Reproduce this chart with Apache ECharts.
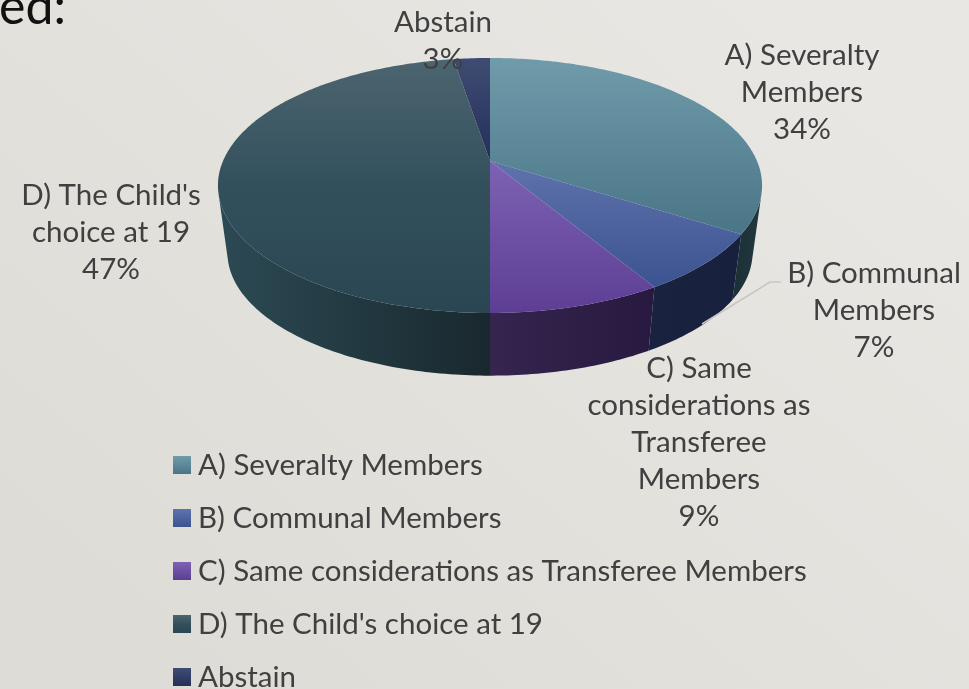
<!DOCTYPE html>
<html>
<head>
<meta charset="utf-8">
<style>
  html, body { margin: 0; padding: 0; }
  #main { width: 969px; height: 689px; }
</style>
<script src="https://cdn.jsdelivr.net/npm/echarts@6/dist/echarts.min.js"></script>
</head>
<body>
<div id="main"></div>
<script>
// chart data (slice sizes are finer than the rounded labels)
var categories = ['A) Severalty Members', 'B) Communal Members', 'C) Same considerations as Transferee Members', "D) The Child's choice at 19", 'Abstain'];
var shares = [34, 7.4, 8.6, 47.4, 2.6];
var labelLines = [
  ['A) Severalty', 'Members'],
  ['B) Communal', 'Members'],
  ['C) Same', 'considerations as', 'Transferee', 'Members'],
  ["D) The Child's", 'choice at 19'],
  ['Abstain']
];

// look of the marks
var topColors = [['#6f9bab', '#4a7586'], ['#5f73ad', '#3b5390'], ['#7d62b3', '#5d3e94'], ['#4c6570', '#32505c', '#2b4653'], ['#3f4c72', '#252f5b']];
var wallColors = [['#1b2f35', '#23393f'], ['#19233f', '#17203c'], ['#35254f', '#27193f'], ['#2c4a54', '#19282e'], ['#1c2340', '#1c2340']];
var labelCenters = [[802, 55], [874, 273], [699, 368], [111, 195], [443, 22]];
var labelLineHeight = 37;
var FONT = 'Lato, "Noto Sans", sans-serif';
var TEXT = '#404040';

// projection of the tilted disc: apex of the slices, radii and perspective
var PIE = { x: 490, y: 161, a: 267, b: 122.8, k: 0.192, shrink: 0.965, drop: 68 };
// the wall only shows between these two points of the rim (percent round the disc)
var WALL_FROM = 29, WALL_TO = 71;

function topPoint(pct) {
  var t = pct / 100 * Math.PI * 2;
  var u = Math.sin(t), v = Math.cos(t);
  var w = 1 + PIE.k * v;
  return [PIE.x + PIE.a * u / w, PIE.y - PIE.b * v / w];
}

function lowPoint(pct) {
  var p = topPoint(pct);
  return [PIE.x + (p[0] - PIE.x) * PIE.shrink, PIE.y + (p[1] - PIE.y) * PIE.shrink + PIE.drop];
}

function stops(c) {
  return c.map(function (color, n) {
    return { offset: n / (c.length - 1), color: color };
  });
}

function vGrad(c) {
  return new echarts.graphic.LinearGradient(0, 0, 0, 1, stops(c));
}

function hGrad(c) {
  return new echarts.graphic.LinearGradient(0, 0, 1, 0, stops(c));
}

function renderSlice(params, api) {
  var i = params.seriesIndex;
  var from = api.value(0), to = api.value(1);
  var children = [];
  var p;

  // side wall
  var a = Math.max(from, WALL_FROM), b = Math.min(to, WALL_TO);
  if (b > a) {
    var upper = [], lower = [];
    for (p = a; p < b; p += 0.25) { upper.push(topPoint(p)); lower.push(lowPoint(p)); }
    upper.push(topPoint(b));
    lower.push(lowPoint(b));
    children.push({
      type: 'polygon',
      shape: { points: upper.concat(lower.reverse()) },
      style: { fill: hGrad(wallColors[i]) }
    });
  }

  // top face
  var pts = [[PIE.x, PIE.y]];
  for (p = from; p < to; p += 0.25) { pts.push(topPoint(p)); }
  pts.push(topPoint(to));
  children.push({ type: 'polygon', shape: { points: pts }, style: { fill: vGrad(topColors[i]) } });

  // leader line of the B label
  if (i === 1) {
    children.push({
      type: 'polyline',
      shape: { points: [[781, 282], [770, 282], [702, 324]] },
      style: { stroke: '#c6c6c4', lineWidth: 1.5, fill: null }
    });
  }

  // data label
  var lines = labelLines[i].concat([Math.round(api.value(2)) + '%']);
  lines.forEach(function (line, n) {
    children.push({
      type: 'text',
      z2: 10,
      style: {
        text: line,
        x: labelCenters[i][0],
        y: labelCenters[i][1] + n * labelLineHeight,
        align: 'center',
        verticalAlign: 'middle',
        font: '29.5px ' + FONT,
        fill: TEXT
      }
    });
  });

  return { type: 'group', children: children };
}

var chart = echarts.init(document.getElementById('main'));
var running = 0;
var series = categories.map(function (name, i) {
  var start = running;
  running += shares[i];
  return {
    type: 'custom',
    name: name,
    coordinateSystem: 'none',
    silent: true,
    animation: false,
    renderItem: renderSlice,
    itemStyle: { color: vGrad(topColors[i]) },
    data: [[start, running, shares[i]]]
  };
});

chart.setOption({
  animation: false,
  backgroundColor: new echarts.graphic.LinearGradient(0.8, 0, 0.2, 1, [
    { offset: 0, color: '#e9e7e3' },
    { offset: 1, color: '#dedcd6' }
  ]),
  legend: {
    orient: 'vertical',
    left: 173,
    top: 450,
    height: 300,
    padding: 0,
    icon: 'rect',
    itemWidth: 18,
    itemHeight: 18,
    itemGap: 23,
    selectedMode: false,
    textStyle: { fontFamily: 'Lato, "Noto Sans", sans-serif', fontSize: 29.5, color: TEXT, padding: [0, 0, 0, 2] },
    data: categories
  },
  graphic: [{
    type: 'text',
    left: -1,
    top: -17,
    style: { text: 'ed:', font: '50px ' + FONT, fill: '#111111' }
  }],
  series: series
});
</script>
</body>
</html>
